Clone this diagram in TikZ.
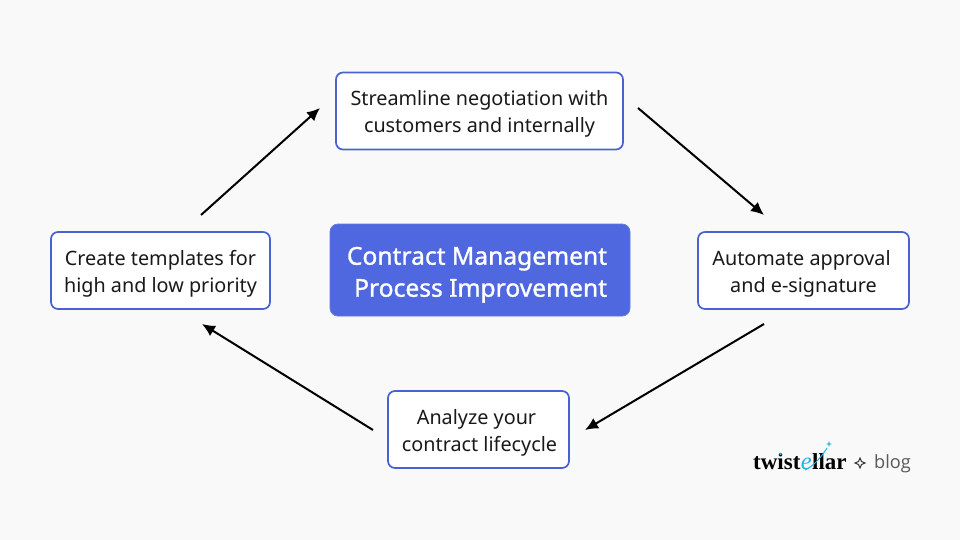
\documentclass[tikz,border=0pt]{standalone}
\usepackage{fontspec}
\usepackage{xcolor}
\usetikzlibrary{arrows.meta}
\setmainfont{Noto Sans}
\newfontfamily\hubfont[FakeBold=1.2]{Noto Sans}
\newfontfamily\logofont{Liberation Serif}
\newfontfamily\blogfont{Open Sans}
\definecolor{pagegray}{HTML}{F9F9F9}
\definecolor{boxblue}{HTML}{4A62D0}
\definecolor{fillblue}{HTML}{4F67DF}
\definecolor{logocyan}{HTML}{1FB6E6}
\newcommand{\stepstrut}{\rule{0pt}{21pt}}
\newcommand{\hubstrut}{\rule{0pt}{27.3pt}}
\begin{document}
\begin{tikzpicture}[x=1pt,y=-1pt,
	stepbox/.style={draw=boxblue,line width=1.7pt,fill=white,rounded corners=7pt,align=center,
		font=\fontsize{19.8}{27}\selectfont,text=black!90,inner sep=0pt,minimum height=77pt},
	hubbox/.style={draw=boxblue!85,line width=0.8pt,fill=fillblue,rounded corners=8pt,align=right,
		font=\hubfont\fontsize{24.6}{32}\selectfont,text=white,inner sep=0pt,minimum width=300pt,minimum height=92pt},
	link/.style={draw=black,line width=2pt,-{Latex[length=13pt,width=12pt]}},
	logotext/.style={anchor=base west,inner sep=0pt,font=\logofont\fontsize{23}{24}\selectfont\bfseries,text=black}]
	\fill[pagegray] (0,0) rectangle (960,540);
	% boxes
	\node[stepbox,minimum width=287pt] (negotiate) at (479.5,111) {\stepstrut Streamline negotiation with\\customers and internally};
	\node[stepbox,minimum width=219pt] (templates) at (160.5,270.5) {\stepstrut Create templates for\\high and low priority};
	\node[stepbox,minimum width=211pt] (approval) at (803.5,270.5) {\stepstrut Automate approval\hspace*{4pt}\\and e-signature};
	\node[stepbox,minimum width=181pt] (lifecycle) at (478.5,429.5) {\stepstrut Analyze your\hspace*{4pt}\\\hspace*{2pt}contract lifecycle};
	\node[hubbox] (hub) at (480,270) {\hubstrut Contract Management\hspace*{6pt}\\Process Improvement\hspace*{6pt}};
	% free ends of the arrows
	\coordinate (a1) at (201,215);
	\coordinate (a2) at (320,108);
	\coordinate (b1) at (638,108);
	\coordinate (b2) at (764,215);
	\coordinate (c1) at (764,324);
	\coordinate (c2) at (585,430);
	\coordinate (d1) at (373,430);
	\coordinate (d2) at (202,324);
	\draw[link] (a1) -- (a2);
	\draw[link] (b1) -- (b2);
	\draw[link] (c1) -- (c2);
	\draw[link] (d1) -- (d2);
	% logo
	\node[logotext] (twist) at (753,469) {twist};
	\node[logotext,font=\logofont\fontsize{24.5}{25}\selectfont\itshape,text=logocyan] (elogo) at (twist.base east) {e};
	\node[logotext] (llar) at (elogo.base east) {llar};
	\draw[logocyan,line width=1pt] (805,470) .. controls (814,466) and (822,456) .. (827,448);
	\fill[logocyan] (829,441) -- (829.7,443.3) -- (832,444) -- (829.7,444.7) -- (829,447) -- (828.3,444.7) -- (826,444) -- (828.3,443.3) -- cycle;
	\fill[logocyan] (780.5,454) circle (1.4pt);
	\draw[black!80,line width=1pt,fill=pagegray] (860,458) -- (861.5,461.5) -- (865,463) -- (861.5,464.5) -- (860,468) -- (858.5,464.5) -- (855,463) -- (858.5,461.5) -- cycle;
	\node[anchor=base west,inner sep=0pt,font=\blogfont\fontsize{18.2}{20}\selectfont,text=black!65] (blog) at (874,468) {blog};
\end{tikzpicture}
\end{document}
